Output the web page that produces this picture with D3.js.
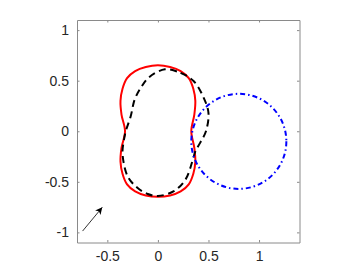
<!DOCTYPE html>
<html><head><meta charset="utf-8">
<script src="https://cdn.jsdelivr.net/npm/d3@7"></script>
<style>body{margin:0;background:#fff}svg{display:block}</style>
</head><body>
<script>
// ----- data -----
const xTicks = [-0.5, 0, 0.5, 1];
const yTicks = [-1, -0.5, 0, 0.5, 1];
const xDomain = [-0.8, 1.4];
const yDomain = [-1.1, 1.1];
// red solid peanut curve (x, y)
const redX = [0,0.12,0.225,0.305,0.35,0.37,0.36,0.33,0.36,0.37,0.35,0.305,0.225,0.12,0,-0.12,-0.225,-0.305,-0.35,-0.37,-0.36,-0.325,-0.36,-0.37,-0.35,-0.305,-0.225,-0.12];
const redY = [0.652,0.635,0.595,0.525,0.42,0.3,0.165,0,-0.165,-0.3,-0.42,-0.525,-0.595,-0.635,-0.648,-0.635,-0.595,-0.525,-0.42,-0.3,-0.165,0,0.165,0.3,0.42,0.525,0.595,0.635];
// black dashed curve
const blackX = [0.07,0.224,0.355,0.453,0.5,0.475,0.42,0.37,0.34,0.273,0.158,0.0,-0.1,-0.203,-0.3,-0.35,-0.338,-0.318,-0.269,-0.23,-0.17,-0.089];
const blackY = [0.612,0.577,0.494,0.33,0.18,0.0,-0.11,-0.2,-0.3,-0.477,-0.592,-0.64,-0.62,-0.559,-0.444,-0.22,-0.1,0.0,0.148,0.313,0.428,0.533];
// blue dash-dot circle
const circleCenter = [0.8, -0.1];
const circleRadius = 0.47;
// arrow
const arrowStart = [-0.745, -0.987];
const arrowEnd = [-0.55, -0.752];

// ----- drawing -----
const W = 364, H = 273;
const L = 77, R = 299.5, T = 20, B = 242.5;
const svg = d3.select("body").append("svg").attr("width", W).attr("height", H);
const x = d3.scaleLinear().domain(xDomain).range([L, R]);
const y = d3.scaleLinear().domain(yDomain).range([B, T]);

const defs = svg.append("defs");
defs.append("clipPath").attr("id","clip").append("rect")
  .attr("x", L).attr("y", T).attr("width", R - L).attr("height", B - T);
defs.append("marker").attr("id","ah").attr("viewBox","0 0 10 10")
  .attr("refX",10).attr("refY",5).attr("markerWidth",9).attr("markerHeight",7)
  .attr("markerUnits","userSpaceOnUse").attr("orient","auto")
  .append("path").attr("d","M0,0 L10,5 L0,10 L2.5,5 Z").attr("fill","#000");

const axisColor = "#8a8a8a", textColor = "#262626";
const font = "Liberation Sans, Arial, sans-serif";
const tl = 2.5;

const axG = svg.append("g");
const styleAxis = g => {
  g.select(".domain").attr("stroke", axisColor);
  g.selectAll(".tick line").attr("stroke", axisColor);
  g.selectAll(".tick text").attr("fill", textColor).style("font-family", font).style("font-size","14px");
};
axG.append("g").attr("transform",`translate(0,${B})`)
  .call(d3.axisBottom(x).tickValues(xTicks).tickSizeInner(-tl).tickSizeOuter(0).tickPadding(9).tickFormat(d3.format("")))
  .call(styleAxis);
axG.append("g").attr("transform",`translate(0,${T})`)
  .call(d3.axisTop(x).tickValues(xTicks).tickSizeInner(-tl).tickSizeOuter(0).tickFormat(""))
  .call(styleAxis);
axG.append("g").attr("transform",`translate(${L},0)`)
  .call(d3.axisLeft(y).tickValues(yTicks).tickSizeInner(-tl).tickSizeOuter(0).tickPadding(8).tickFormat(d3.format("")))
  .call(styleAxis);
axG.append("g").attr("transform",`translate(${R},0)`)
  .call(d3.axisRight(y).tickValues(yTicks).tickSizeInner(-tl).tickSizeOuter(0).tickFormat(""))
  .call(styleAxis);
svg.selectAll(".tick text").text(function(){ return this.textContent.replace("−","-"); });

const plot = svg.append("g").attr("clip-path","url(#clip)");
const line = d3.line().x(d => x(d[0])).y(d => y(d[1])).curve(d3.curveCatmullRomClosed.alpha(0.5));

plot.append("path").datum(redX.map((v,i)=>[v, redY[i]]))
  .attr("d", line).attr("fill","none").attr("stroke","#ff0000").attr("stroke-width",2);
plot.append("path").datum(blackX.map((v,i)=>[v, blackY[i]]))
  .attr("d", line).attr("fill","none").attr("stroke","#000").attr("stroke-width",2)
  .attr("stroke-dasharray","7,4.5");
plot.append("ellipse")
  .attr("cx", x(circleCenter[0])).attr("cy", y(circleCenter[1]))
  .attr("rx", x(circleCenter[0] + circleRadius) - x(circleCenter[0]))
  .attr("ry", y(circleCenter[1]) - y(circleCenter[1] + circleRadius))
  .attr("fill","none").attr("stroke","#0000ff").attr("stroke-width",2)
  .attr("stroke-dasharray","5,3,1.5,3");
plot.append("line")
  .attr("x1", x(arrowStart[0])).attr("y1", y(arrowStart[1]))
  .attr("x2", x(arrowEnd[0])).attr("y2", y(arrowEnd[1]))
  .attr("stroke","#000").attr("stroke-width",0.8).attr("marker-end","url(#ah)");
</script>
</body></html>
